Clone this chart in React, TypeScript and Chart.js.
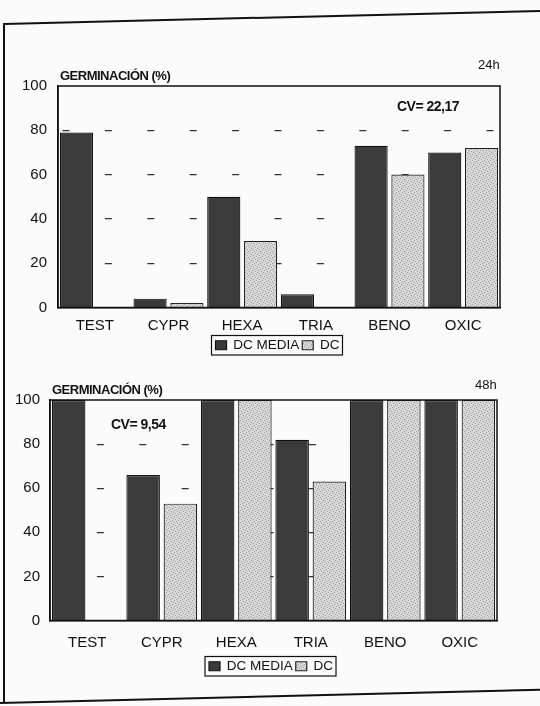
import React, { useEffect, useRef } from "react";
import { Chart, registerables } from "chart.js";

Chart.register(...registerables);

const categories = ["TEST", "CYPR", "HEXA", "TRIA", "BENO", "OXIC"];
const seriesNames = ["DC MEDIA", "DC"];
const media24 = [79, 4, 50, 6, 73, 70];
const dc24 = [0, 2, 30, 0, 60, 72];
const media48 = [100, 66, 100, 82, 100, 100];
const dc48 = [0, 53, 100, 63, 100, 100];
const yTickValues = [0, 20, 40, 60, 80, 100];

const FONT = "'Liberation Sans', Arial, Helvetica, sans-serif";

function makePattern(): CanvasPattern | string {
  const c = document.createElement("canvas");
  c.width = 6;
  c.height = 6;
  const g = c.getContext("2d");
  if (!g) return "#cfcfcf";
  g.fillStyle = "#d8d8d8";
  g.fillRect(0, 0, 6, 6);
  g.fillStyle = "#9a9a9a";
  const dots = [
    [0, 0], [3, 1], [1, 3], [4, 4], [2, 5], [5, 2],
  ];
  dots.forEach(([x, y]) => g.fillRect(x, y, 1, 1));
  return g.createPattern(c, "repeat") || "#cfcfcf";
}

const framePlugin = {
  id: "frameBox",
  afterLayout(chart: any, _args: any, opts: any) {
    const lg = chart.legend;
    const dx = (opts && opts.legendShift) || 0;
    if (lg && dx) {
      lg.left += dx;
      lg.right += dx;
      if (lg.legendHitBoxes) lg.legendHitBoxes.forEach((h: any) => (h.left += dx));
    }
  },
  afterDraw(chart: any) {
    const { ctx, chartArea: a } = chart;
    ctx.save();
    ctx.strokeStyle = "#111";
    ctx.lineWidth = 1.5;
    ctx.strokeRect(a.left, a.top, a.right - a.left, a.bottom - a.top);
    const lg = chart.legend;
    if (lg && lg.legendHitBoxes && lg.legendHitBoxes.length) {
      let minX = Infinity, maxX = -Infinity, minY = Infinity, maxY = -Infinity;
      lg.legendHitBoxes.forEach((h: any) => {
        minX = Math.min(minX, h.left);
        maxX = Math.max(maxX, h.left + h.width);
        minY = Math.min(minY, h.top);
        maxY = Math.max(maxY, h.top + h.height);
      });
      ctx.lineWidth = 1.2;
      ctx.strokeRect(minX - 4, minY - 3, maxX - minX + 7, maxY - minY + 6);
    }
    ctx.restore();
  },
};

type Cfg = {
  media: number[];
  dc: number[];
  pad: { left: number; right: number; top: number; bottom: number };
  tickPadY: number;
  tickPadX: number;
  legendShift: number;
};

function BarChart({ cfg, style }: { cfg: Cfg; style: React.CSSProperties }) {
  const ref = useRef<HTMLCanvasElement>(null);
  useEffect(() => {
    if (!ref.current) return;
    const pattern = makePattern();
    const chart = new Chart(ref.current, {
      type: "bar",
      data: {
        labels: categories,
        datasets: [
          {
            label: seriesNames[0],
            data: cfg.media,
            backgroundColor: "#3b3b3b",
            borderColor: "#111",
            borderWidth: 1.2,
            barPercentage: 0.9,
            categoryPercentage: 1,
          },
          {
            label: seriesNames[1],
            data: cfg.dc,
            backgroundColor: pattern as any,
            borderColor: "#222",
            borderWidth: 1.2,
            barPercentage: 0.9,
            categoryPercentage: 1,
          },
        ],
      },
      options: {
        animation: false,
        responsive: false,
        maintainAspectRatio: false,
        layout: { padding: cfg.pad },
        plugins: {
          tooltip: { enabled: false },
          title: { display: false },
          frameBox: { legendShift: cfg.legendShift },
          legend: {
            display: true,
            position: "bottom",
            labels: {
              font: { family: FONT, size: 13.5 },
              color: "#111",
              boxWidth: 11,
              boxHeight: 9,
              padding: 3,
            },
          },
        },
        scales: {
          x: {
            grid: { display: false },
            border: { display: true, color: "#111", width: 1.5 },
            ticks: {
              font: { family: FONT, size: 15 },
              color: "#111",
              padding: cfg.tickPadX,
              maxRotation: 0,
            },
          },
          y: {
            min: 0,
            max: 100,
            afterBuildTicks: (scale: any) => {
              scale.ticks = yTickValues.map((v) => ({ value: v }));
            },
            grid: {
              drawTicks: false,
              color: (c: any) =>
                c.tick && (c.tick.value === 0 || c.tick.value === 100) ? "rgba(0,0,0,0)" : "#333",
              lineWidth: 1.2,
            },
            border: { display: true, color: "#111", width: 1.5, dash: [7, 35.4], dashOffset: -4 },
            ticks: {
              font: { family: FONT, size: 15 },
              color: "#111",
              padding: cfg.tickPadY,
            },
          },
        },
      } as any,
      plugins: [framePlugin],
    });
    return () => chart.destroy();
  }, []);
  return <canvas ref={ref} width={540} height={style.height as number} style={{ position: "absolute", ...style }} />;
}

const txt = (extra: React.CSSProperties): React.CSSProperties => ({
  position: "absolute",
  fontFamily: FONT,
  color: "#111",
  whiteSpace: "nowrap",
  lineHeight: 1,
  ...extra,
});

export default function App() {
  return (
    <div style={{ position: "absolute", left: 0, top: 0, width: 540, height: 706, background: "#fbfbfb", overflow: "hidden" }}>
      {/* page frame from the scan */}
      <div style={{ position: "absolute", left: 3, top: 23, width: 2, height: 680, background: "#111" }} />
      <div style={{ position: "absolute", left: 4, top: 23, width: 540, height: 2, background: "#111", transform: "rotate(-1.4deg)", transformOrigin: "0 0" }} />
      <div style={{ position: "absolute", left: 0, top: 702, width: 545, height: 2, background: "#111", transform: "rotate(-1.4deg)", transformOrigin: "0 0" }} />

      <BarChart
        cfg={{ media: media24, dc: dc24, pad: { left: 11, right: 40, top: 26, bottom: 4 }, tickPadY: 11, tickPadX: 1, legendShift: 22 }}
        style={{ left: 0, top: 60, width: 540, height: 306 }}
      />
      <div style={txt({ left: 60, top: 69, fontSize: 13, fontWeight: "bold", letterSpacing: -0.5 })}>GERMINACIÓN (%)</div>
      <div style={txt({ left: 478, top: 58, fontSize: 13 })}>24h</div>
      <div style={txt({ left: 397, top: 99, fontSize: 14, fontWeight: "bold", letterSpacing: -0.5 })}>CV= 22,17</div>

      <BarChart
        cfg={{ media: media48, dc: dc48, pad: { left: 5, right: 43, top: 28, bottom: 5 }, tickPadY: 10, tickPadX: 5, legendShift: 20 }}
        style={{ left: 0, top: 372, width: 540, height: 316 }}
      />
      <div style={txt({ left: 52, top: 383, fontSize: 13, fontWeight: "bold", letterSpacing: -0.5 })}>GERMINACIÓN (%)</div>
      <div style={txt({ left: 475, top: 378, fontSize: 13 })}>48h</div>
      <div style={txt({ left: 111, top: 417, fontSize: 14, fontWeight: "bold", letterSpacing: -0.5 })}>CV= 9,54</div>
    </div>
  );
}
